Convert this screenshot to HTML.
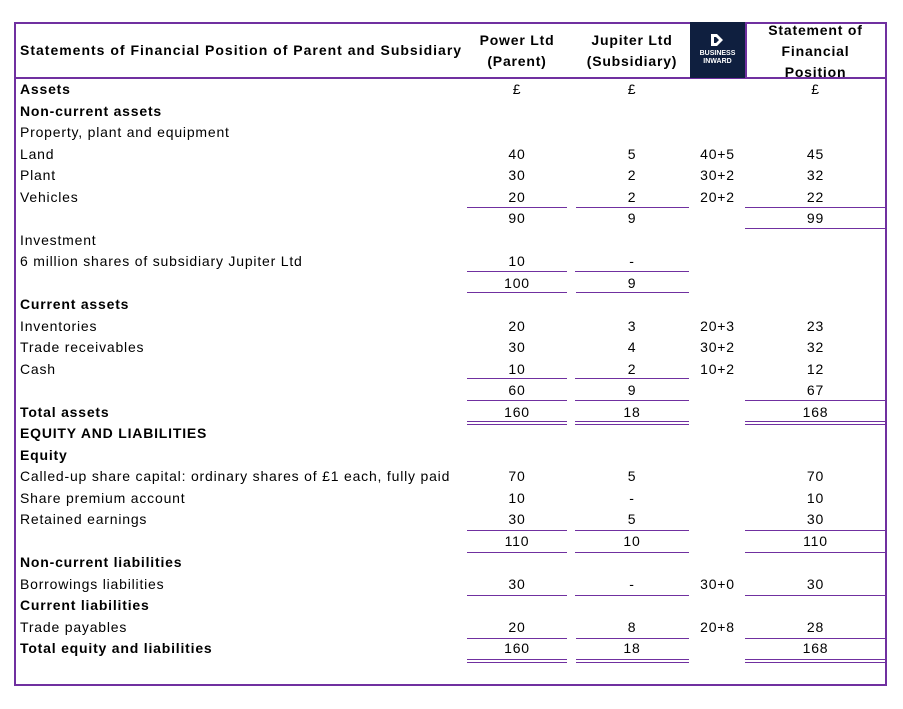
<!DOCTYPE html>
<html><head><meta charset="utf-8"><style>
*{margin:0;padding:0;box-sizing:border-box}
body{width:903px;height:709px;background:#fff;position:relative;font-family:"Liberation Sans",sans-serif;font-size:14px;color:#000;overflow:hidden;letter-spacing:0.8px}
.abs{position:absolute}
.frame{left:14px;top:22px;width:873px;height:664px;border:2px solid #7030a0}
.hl{position:absolute;height:0;border-top:1.5px solid #7030a0}
.dl{position:absolute;height:4px;border-top:1.5px solid #7030a0;border-bottom:1.5px solid #7030a0}
.r{position:absolute;left:0;width:903px;height:21.5px;line-height:23px;white-space:nowrap}
.r span{position:absolute;top:0}
.l{left:20px}
.p{left:467px;width:100px;text-align:center}
.j{left:575px;width:114px;text-align:center}
.a{left:690px;width:55px;text-align:center}
.s{left:745px;width:141px;text-align:center}
.b{font-weight:bold}
.h{position:absolute;font-weight:bold;text-align:center;line-height:21px}
</style></head><body>
<div class="abs frame"></div>
<div class="hl" style="left:14px;top:77px;width:873px;border-top-width:2px"></div>
<div class="abs" style="left:690px;top:22px;width:55px;height:56px;background:#0f1f3f"></div>
<div class="abs" style="left:745px;top:22px;width:0;height:56px;border-left:2px solid #7030a0"></div>
<svg class="abs" style="left:709px;top:33px" width="16" height="14" viewBox="0 0 16 14"><path d="M2 1 H8 L14 7 L8 13 H2 Z M5 4 V10 H7 L10 7 L7 4 Z" fill="#fff" fill-rule="evenodd"/></svg>
<div class="abs" style="left:690px;top:50px;width:55px;text-align:center;color:#fff;font-size:7px;font-weight:bold;line-height:8px;letter-spacing:0">BUSINESS<br>INWARD</div>
<div class="abs b" style="left:20px;top:42px;font-size:14px;letter-spacing:1px">Statements of Financial Position of Parent and Subsidiary</div>
<div class="h" style="left:467px;top:30px;width:100px">Power Ltd<br>(Parent)</div>
<div class="h" style="left:575px;top:30px;width:114px">Jupiter Ltd<br>(Subsidiary)</div>
<div class="h" style="left:745px;top:20px;width:141px">Statement of<br>Financial<br>Position</div>

<div class="r" style="top:78px"><span class="l b">Assets</span><span class="p">£</span><span class="j">£</span><span class="s">£</span></div>
<div class="r" style="top:99.5px"><span class="l b">Non-current assets</span></div>
<div class="r" style="top:121px"><span class="l">Property, plant and equipment</span></div>
<div class="r" style="top:142.5px"><span class="l">Land</span><span class="p">40</span><span class="j">5</span><span class="a">40+5</span><span class="s">45</span></div>
<div class="r" style="top:164px"><span class="l">Plant</span><span class="p">30</span><span class="j">2</span><span class="a">30+2</span><span class="s">32</span></div>
<div class="r" style="top:185.5px"><span class="l">Vehicles</span><span class="p">20</span><span class="j">2</span><span class="a">20+2</span><span class="s">22</span></div>
<div class="r" style="top:207px"><span class="p">90</span><span class="j">9</span><span class="s">99</span></div>
<div class="r" style="top:228.5px"><span class="l">Investment</span></div>
<div class="r" style="top:250px"><span class="l">6 million shares of subsidiary Jupiter Ltd</span><span class="p">10</span><span class="j">-</span></div>
<div class="r" style="top:271.5px"><span class="p">100</span><span class="j">9</span></div>
<div class="r" style="top:293px"><span class="l b">Current assets</span></div>
<div class="r" style="top:314.5px"><span class="l">Inventories</span><span class="p">20</span><span class="j">3</span><span class="a">20+3</span><span class="s">23</span></div>
<div class="r" style="top:336px"><span class="l">Trade receivables</span><span class="p">30</span><span class="j">4</span><span class="a">30+2</span><span class="s">32</span></div>
<div class="r" style="top:357.5px"><span class="l">Cash</span><span class="p">10</span><span class="j">2</span><span class="a">10+2</span><span class="s">12</span></div>
<div class="r" style="top:379px"><span class="p">60</span><span class="j">9</span><span class="s">67</span></div>
<div class="r" style="top:400.5px"><span class="l b">Total assets</span><span class="p">160</span><span class="j">18</span><span class="s">168</span></div>
<div class="r" style="top:422px"><span class="l b">EQUITY AND LIABILITIES</span></div>
<div class="r" style="top:443.5px"><span class="l b">Equity</span></div>
<div class="r" style="top:465px"><span class="l">Called-up share capital: ordinary shares of £1 each, fully paid</span><span class="p">70</span><span class="j">5</span><span class="s">70</span></div>
<div class="r" style="top:486.5px"><span class="l">Share premium account</span><span class="p">10</span><span class="j">-</span><span class="s">10</span></div>
<div class="r" style="top:508px"><span class="l">Retained earnings</span><span class="p">30</span><span class="j">5</span><span class="s">30</span></div>
<div class="r" style="top:529.5px"><span class="p">110</span><span class="j">10</span><span class="s">110</span></div>
<div class="r" style="top:551px"><span class="l b">Non-current liabilities</span></div>
<div class="r" style="top:572.5px"><span class="l">Borrowings liabilities</span><span class="p">30</span><span class="j">-</span><span class="a">30+0</span><span class="s">30</span></div>
<div class="r" style="top:594px"><span class="l b">Current liabilities</span></div>
<div class="r" style="top:615.5px"><span class="l">Trade payables</span><span class="p">20</span><span class="j">8</span><span class="a">20+8</span><span class="s">28</span></div>
<div class="r" style="top:637px"><span class="l b">Total equity and liabilities</span><span class="p">160</span><span class="j">18</span><span class="s">168</span></div>

<div class="hl" style="left:467px;top:207px;width:100px"></div><div class="hl" style="left:576px;top:207px;width:113px"></div><div class="hl" style="left:745px;top:207px;width:141px"></div>
<div class="hl" style="left:745px;top:228px;width:141px"></div>
<div class="hl" style="left:467px;top:271px;width:100px"></div><div class="hl" style="left:575px;top:271px;width:114px"></div>
<div class="hl" style="left:467px;top:292px;width:100px"></div><div class="hl" style="left:576px;top:292px;width:113px"></div>
<div class="hl" style="left:467px;top:378px;width:100px"></div><div class="hl" style="left:575px;top:378px;width:114px"></div>
<div class="hl" style="left:467px;top:400px;width:100px"></div><div class="hl" style="left:575px;top:400px;width:114px"></div><div class="hl" style="left:745px;top:400px;width:141px"></div>
<div class="dl" style="left:467px;top:421px;width:100px"></div><div class="dl" style="left:575px;top:421px;width:114px"></div><div class="dl" style="left:745px;top:421px;width:141px"></div>
<div class="hl" style="left:467px;top:530px;width:100px"></div><div class="hl" style="left:575px;top:530px;width:114px"></div><div class="hl" style="left:745px;top:530px;width:141px"></div>
<div class="hl" style="left:467px;top:552px;width:100px"></div><div class="hl" style="left:575px;top:552px;width:114px"></div><div class="hl" style="left:745px;top:552px;width:141px"></div>
<div class="hl" style="left:467px;top:595px;width:100px"></div><div class="hl" style="left:575px;top:595px;width:114px"></div><div class="hl" style="left:745px;top:595px;width:141px"></div>
<div class="hl" style="left:467px;top:638px;width:100px"></div><div class="hl" style="left:576px;top:638px;width:113px"></div><div class="hl" style="left:745px;top:638px;width:141px"></div>
<div class="dl" style="left:467px;top:659px;width:100px"></div><div class="dl" style="left:576px;top:659px;width:113px"></div><div class="dl" style="left:745px;top:659px;width:141px"></div>
</body></html>
